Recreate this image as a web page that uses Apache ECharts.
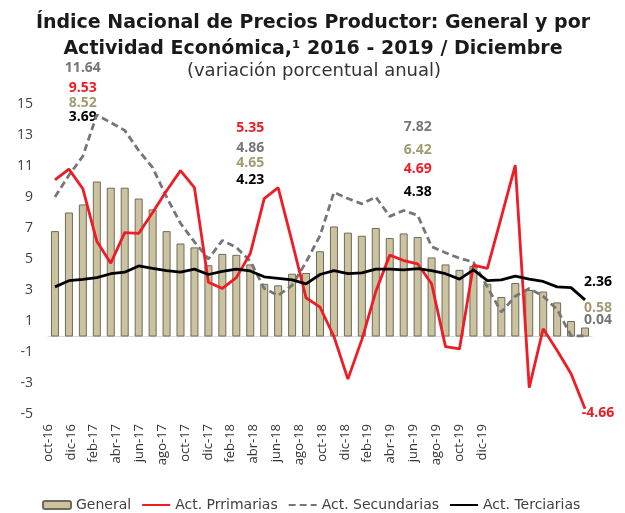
<!DOCTYPE html>
<html>
<head>
<meta charset="utf-8">
<script src="https://cdn.jsdelivr.net/npm/echarts@6/dist/echarts.min.js"></script>
<style>
  html, body { margin: 0; padding: 0; background: #fff; }
  #chart { width: 625px; height: 513px; }
</style>
</head>
<body>
<div id="chart"></div>
<script>
const months = [
  "oct-16", "nov-16", "dic-16",
  "ene-17", "feb-17", "mar-17", "abr-17", "may-17", "jun-17", "jul-17", "ago-17", "sep-17", "oct-17", "nov-17", "dic-17",
  "ene-18", "feb-18", "mar-18", "abr-18", "may-18", "jun-18", "jul-18", "ago-18", "sep-18", "oct-18", "nov-18", "dic-18",
  "ene-19", "feb-19", "mar-19", "abr-19", "may-19", "jun-19", "jul-19", "ago-19", "sep-19", "oct-19", "nov-19", "dic-19",
];
const tickLabels = months.filter((m, i) => i % 2 === 0);
const yTicks = [-5, 15, 2]; // min, max, interval

const general = [6.8, 8.0, 8.52, 10.0, 9.6, 9.6, 8.9, 8.2, 6.8, 6.0, 5.75, 4.6, 5.33, 5.27, 4.65, 3.4, 3.3, 4.05, 4.1, 5.5,
  7.1, 6.7, 6.5, 7.0, 6.35, 6.65, 6.42, 5.1, 4.65, 4.3, 4.55, 3.4, 2.55, 3.45, 3.0, 2.9, 2.2, 1.0, 0.58];
const primarias = [10.1, 10.8, 9.53, 6.15, 4.73, 6.7, 6.65, 8.0, 9.4, 10.7, 9.6, 3.5, 3.1, 3.8, 5.35, 8.9, 9.6, 6.1, 2.5, 1.9,
  0.0, -2.75, -0.2, 2.9, 5.25, 4.9, 4.69, 3.4, -0.65, -0.8, 4.6, 4.4, 7.7, 11.05, -3.3, 0.5, -0.9, -2.4, -4.66];
const secundarias = [9.0, 10.4, 11.64, 14.3, 13.8, 13.3, 12.0, 10.9, 9.0, 7.3, 6.1, 5.0, 6.2, 5.75, 4.86, 3.1, 2.65, 3.3, 4.8, 6.5,
  9.3, 8.9, 8.56, 9.0, 7.75, 8.13, 7.82, 5.8, 5.4, 5.05, 4.8, 3.2, 1.57, 2.6, 3.1, 2.6, 1.75, 0.05, 0.04];
const terciarias = [3.2, 3.6, 3.69, 3.8, 4.05, 4.15, 4.55, 4.4, 4.25, 4.15, 4.35, 4.0, 4.2, 4.35, 4.23, 3.85, 3.75, 3.65, 3.4, 4.0,
  4.25, 4.05, 4.1, 4.35, 4.35, 4.3, 4.38, 4.25, 4.05, 3.7, 4.3, 3.6, 3.65, 3.9, 3.7, 3.55, 3.2, 3.15, 2.36];

const seriesNames = ["General", "Act. Prrimarias", "Act. Secundarias", "Act. Terciarias"];
const annotatedMonths = ["dic-16", "dic-17", "dic-18", "dic-19"];

const FONT = "'Open Sans', sans-serif";
const WIDE = "'DejaVu Sans', sans-serif";
const RED = "#EE1C25";
const GRAY = "#767676";
const TAN = "#A39C72";

const chart = echarts.init(document.getElementById("chart"));

// legend slots so the four entries sit where the original ones do
const legendTextWidths = [68, 105, 143, 100];

chart.setOption({
  animation: false,
  textStyle: { fontFamily: FONT },
  title: [
    {
      text: "Índice Nacional de Precios Productor: General y por\nActividad Económica,¹ 2016 - 2019 / Diciembre",
      left: 308,
      textAlign: "center",
      top: 5,
      textStyle: { fontSize: 19, fontWeight: "bold", color: "#1a1a1a", lineHeight: 26, fontFamily: WIDE },
    },
    {
      text: "(variación porcentual anual)",
      left: 309,
      textAlign: "center",
      top: 57,
      textStyle: { fontSize: 18, fontWeight: "normal", color: "#333", fontFamily: WIDE },
    },
  ],
  legend: {
    data: seriesNames.map((name, i) => ({
      name: name,
      itemStyle: i === 0 ? undefined : { opacity: 0 },
      textStyle: { width: legendTextWidths[i] },
    })),
    left: 42,
    top: 498,
    padding: 0,
    itemWidth: 28,
    itemHeight: 8,
    itemGap: 10,
    textStyle: { fontSize: 14, color: "#404040", fontFamily: WIDE },
  },
  grid: [
    { left: 48, right: 33, top: 104, height: 310 },
    { left: 48, width: 434, top: 104, height: 310 },
  ],
  xAxis: [
    {
      type: "category",
      data: months,
      gridIndex: 0,
      axisLine: { onZero: true, lineStyle: { color: "#D9D9D9", width: 1 } },
      axisTick: { show: false },
      axisLabel: { show: false },
    },
    {
      type: "category",
      data: tickLabels,
      gridIndex: 1,
      position: "bottom",
      boundaryGap: false,
      axisLine: { show: false },
      axisTick: { show: false },
      axisLabel: { rotate: 90, interval: 0, margin: 10, fontSize: 13, color: "#333", fontFamily: FONT },
    },
  ],
  yAxis: [
    {
      type: "value",
      gridIndex: 0,
      min: yTicks[0],
      max: yTicks[1],
      interval: yTicks[2],
      axisLine: { show: false },
      axisTick: { show: false },
      splitLine: { show: false },
      axisLabel: { margin: 15, fontSize: 14, color: "#404040", fontFamily: FONT },
    },
    { type: "value", gridIndex: 1, show: false, min: yTicks[0], max: yTicks[1] },
  ],
  series: [
    {
      name: seriesNames[0],
      type: "bar",
      data: general,
      barWidth: 8,
      itemStyle: { color: "#CBC3A0", borderColor: "#6F6B58", borderWidth: 1 },
    },
    {
      name: seriesNames[1],
      type: "line",
      data: primarias,
      symbol: "none",
      z: 4,
      itemStyle: { color: RED },
      lineStyle: { color: RED, width: 2.8 },
    },
    {
      name: seriesNames[2],
      type: "line",
      data: secundarias,
      symbol: "none",
      z: 3,
      itemStyle: { color: GRAY },
      lineStyle: { color: GRAY, width: 2.8, type: [7, 4] },
    },
    {
      name: seriesNames[3],
      type: "line",
      data: terciarias,
      symbol: "none",
      z: 5,
      itemStyle: { color: "#000" },
      lineStyle: { color: "#000", width: 2.8 },
    },
  ],
});

// value call-outs for each December, stacked like the original text boxes
const calloutLayout = [
  { dx: 0, rows: [[secundarias, GRAY, 68], [primarias, RED, 88], [general, TAN, 103], [terciarias, "#000", 117]] },
  { dx: 0, rows: [[primarias, RED, 128], [secundarias, GRAY, 148], [general, TAN, 163], [terciarias, "#000", 180]] },
  { dx: 0, rows: [[secundarias, GRAY, 127], [general, TAN, 150], [primarias, RED, 169], [terciarias, "#000", 192]] },
  { dx: 13, rows: [[terciarias, "#000", 282], [general, TAN, 308], [secundarias, GRAY, 320], [primarias, RED, 413]] },
];

const graphics = [];
annotatedMonths.forEach((m, k) => {
  const idx = months.indexOf(m);
  const x = chart.convertToPixel({ xAxisIndex: 0 }, m) + calloutLayout[k].dx;
  calloutLayout[k].rows.forEach(([arr, color, y]) => {
    graphics.push({
      type: "text",
      x: x,
      y: y,
      style: {
        text: arr[idx].toFixed(2),
        fill: color,
        font: "bold 14px " + FONT,
        textAlign: "center",
        textVerticalAlign: "middle",
      },
    });
  });
});
chart.setOption({ graphic: graphics });
</script>
</body>
</html>
